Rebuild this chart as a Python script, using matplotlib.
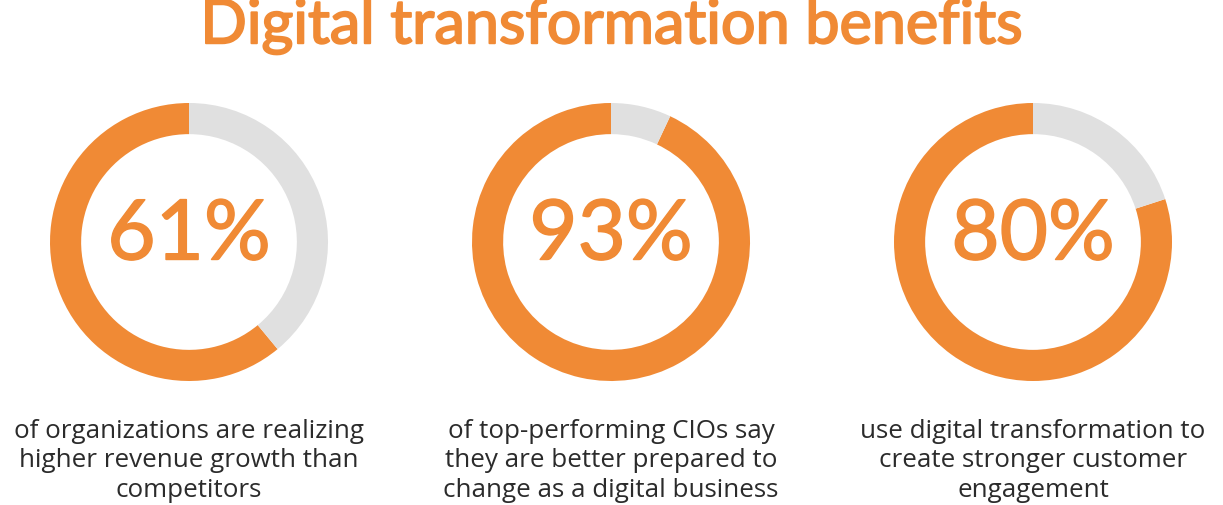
import matplotlib
matplotlib.use("Agg")
import matplotlib.pyplot as plt
import matplotlib.patheffects as pe

title = "Digital transformation benefits"
percentages = [61, 93, 80]
captions = [
    "of organizations are realizing\nhigher revenue growth than\ncompetitors",
    "of top-performing CIOs say\nthey are better prepared to\nchange as a digital business",
    "use digital transformation to\ncreate stronger customer\nengagement",
]

ORANGE = "#F08A35"
GRAY = "#E0E0E0"
TEXT = "#2B2B2B"

W, H = 1223, 506
fig = plt.figure(figsize=(W / 100, H / 100), dpi=100)
fig.patch.set_facecolor("white")

centers_x = [189, 611, 1033]
cy = 243
R = 139

for cx, pct, cap in zip(centers_x, percentages, captions):
    ax = fig.add_axes([(cx - R) / W, (H - cy - R) / H, 2 * R / W, 2 * R / H])
    ax.pie([pct, 100 - pct], colors=[ORANGE, GRAY], startangle=90,
           counterclock=True, radius=1.0,
           wedgeprops=dict(width=0.224, edgecolor="none", linewidth=0))
    ax.set_xlim(-1, 1)
    ax.set_ylim(-1, 1)
    ax.set_aspect("equal")
    ax.axis("off")
    t = ax.text(0, 0.04, f"{pct}%", ha="center", va="center", color=ORANGE,
                fontsize=60, family="Lato", fontweight="normal")
    t.set_path_effects([pe.withStroke(linewidth=1.1, foreground=ORANGE)])
    fig.text(cx / W, (H - 461) / H, cap, ha="center", va="center",
             color=TEXT, fontsize=18.7, family="Open Sans", linespacing=1.22)

tt = fig.text(612 / W, (H - 27) / H, title, ha="center", va="center",
              color=ORANGE, fontsize=44, family="Lato", fontweight="normal")
tt.set_path_effects([pe.withStroke(linewidth=1.4, foreground=ORANGE)])

fig.savefig("out.png", dpi=100, facecolor="white")
